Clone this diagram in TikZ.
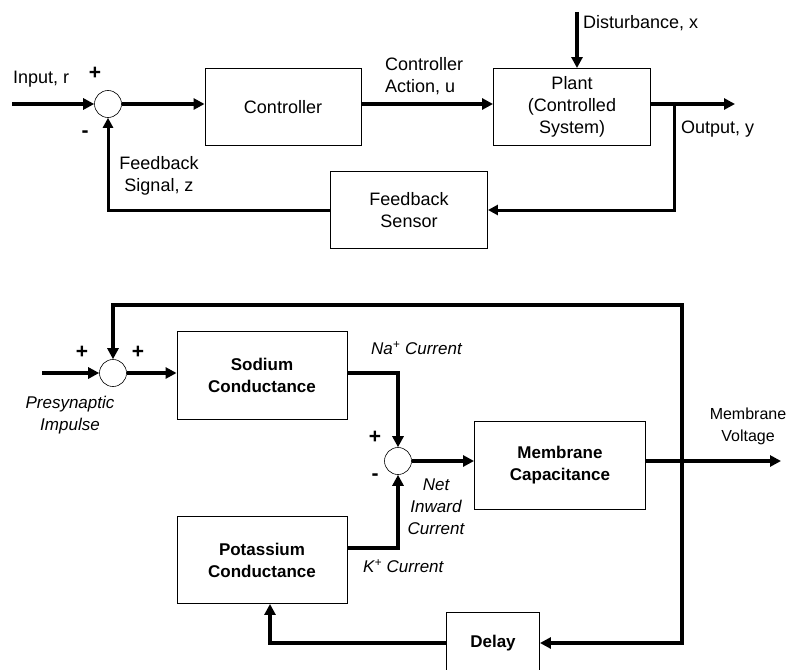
\documentclass[tikz,border=0pt]{standalone}
\usepackage{fontspec}
\setmainfont{Liberation Sans}
\usetikzlibrary{arrows.meta,positioning}
\tikzset{
  block/.style={draw, line width=0.9pt, align=center, font=\fontsize{18}{22}\selectfont},
  bblock/.style={block, font=\fontsize{17}{22}\selectfont\bfseries},
  sumnode/.style={draw, circle, line width=0.6pt, minimum size=27pt, inner sep=0pt},
  sig/.style={line width=3.6pt, -{Triangle[length=11pt,width=11pt]}},
  lbl/.style={font=\fontsize{18}{22}\selectfont, align=center, inner sep=0pt},
  ilbl/.style={font=\fontsize{17}{22}\selectfont\itshape, align=center, inner sep=0pt},
  sgn/.style={font=\fontsize{21}{22}\selectfont\bfseries, inner sep=0pt}
}
\begin{document}
\begin{tikzpicture}[x=1pt,y=-1pt]
\useasboundingbox (0,0) rectangle (791,669);
% control loop
\node[sumnode] (sumA) at (108,104) {};
\node[block, minimum width=156pt, minimum height=77pt] (ctrl) at (283,107) {Controller};
\node[block, minimum width=157pt, minimum height=77pt] (plant) at (572,107) {Plant\\(Controlled\\System)};
\node[block, minimum width=157pt, minimum height=77pt] (sensor) at (409,210) {Feedback\\Sensor};
\coordinate (inA) at (12,104);
\coordinate (outA) at (735,104);
\coordinate (brA) at (674,104);
\coordinate (dist) at (577,12);
%
\draw[sig] (inA) -- (sumA.west);
\draw[sig] (sumA.east) -- (sumA.east -| ctrl.west);
\draw[sig] (ctrl.east |- sumA) -- (sumA -| plant.west);
\draw[sig] (plant.east |- sumA) -- (outA);
\draw[sig] (dist) -- (plant.north -| dist);
\draw[line width=3pt, -{Triangle[length=10pt,width=10pt]}] (brA) |- (sensor.east);
\draw[line width=3pt, -{Triangle[length=10pt,width=10pt]}] (sensor.west) -| (sumA.south);
%
\node[lbl, anchor=west] (lin) at (13,79) {Input, r};
\node[sgn] (pA) at (95,73) {+};
\node[sgn] (mA) at (85,134) {-};
\node[lbl, anchor=west, align=left] (lu) at (385,76) {Controller\\Action, u};
\node[lbl, anchor=west] (lx) at (583,23) {Disturbance, x};
\node[lbl, anchor=west] (ly) at (681,129) {Output, y};
\node[lbl] (lz) at (159,176) {Feedback\\Signal, z};
%
% membrane loop
\node[sumnode] (sumB) at (113,373) {};
\node[bblock, minimum width=170pt, minimum height=88pt] (sodium) at (262,375) {Sodium\\Conductance};
\node[sumnode] (sumC) at (398,461) {};
\node[bblock, minimum width=171pt, minimum height=88pt] (membrane) at (560,465) {Membrane\\Capacitance};
\node[bblock, minimum width=170pt, minimum height=87pt] (potassium) at (262,560) {Potassium\\Conductance};
\node[bblock, minimum width=93pt, minimum height=62pt] (delay) at (493,643) {Delay};
\coordinate (inB) at (42,373);
\coordinate (outB) at (781,461);
\coordinate (brB) at (682,461);
\coordinate (topR) at (682,305);
%
\draw[sig] (inB) -- (sumB.west);
\draw[sig] (sumB.east) -- (sumB.east -| sodium.west);
\draw[sig] (sodium.east |- sumB) -| (sumC.north);
\draw[sig] ([yshift=12pt]potassium.east) -| (sumC.south);
\draw[sig] (sumC.east) -- (sumC.east -| membrane.west);
\draw[sig] (membrane.east |- sumC) -- (outB);
\draw[sig] (brB) -- (topR) -| (sumB.north);
\draw[sig] (brB) |- (delay.east);
\draw[sig] (delay.west) -| ([xshift=8pt]potassium.south);
%
\node[sgn] (pB1) at (82,352) {+};
\node[sgn] (pB2) at (138,352) {+};
\node[sgn] (pC) at (375,437) {+};
\node[sgn] (mC) at (375,477) {-};
\node[ilbl] (lpre) at (70,415) {Presynaptic\\Impulse};
\node[ilbl, anchor=west] (lna) at (371,348) {Na\textsuperscript{+} Current};
\node[ilbl] (lnet) at (436,507) {Net\\Inward\\Current};
\node[ilbl, anchor=west] (lk) at (363,566) {K\textsuperscript{+} Current};
\node[lbl, font=\fontsize{16}{22}\selectfont] (lv) at (748,426) {Membrane\\Voltage};
\end{tikzpicture}
\end{document}
